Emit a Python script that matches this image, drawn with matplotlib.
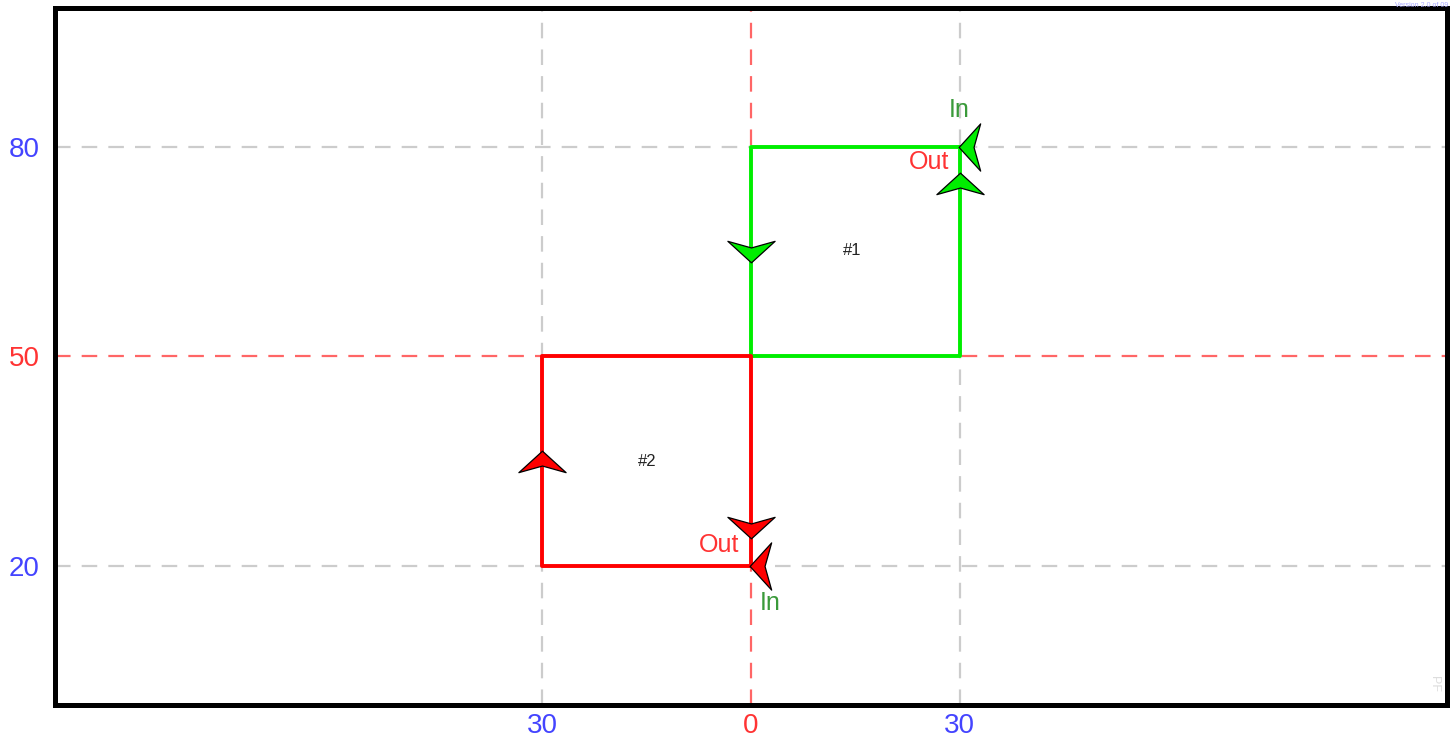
import numpy as np
import matplotlib
matplotlib.use("Agg")
import matplotlib.pyplot as plt
from matplotlib.path import Path

plt.rcParams['font.family'] = ['Liberation Sans', 'DejaVu Sans']

# loop outlines (x, y)
green_x = [30, 0, 0, 30, 30]
green_y = [80, 80, 50, 50, 80]
red_x = [0, -30, -30, 0, 0]
red_y = [20, 20, 50, 50, 20]

# direction arrows: x, y, direction
green_arrows = [(0, 65.2, 'down'), (30, 74.8, 'up'), (31.4, 80, 'left')]
red_arrows = [(-30, 34.9, 'up'), (0, 25.5, 'down'), (1.4, 20, 'left')]

# labels
labels = [("In", 29.9, 85.3, '#3a9a3a'), ("Out", 25.6, 77.9, '#ff3333'),
          ("Out", -4.6, 23.0, '#ff3333'), ("In", 2.8, 14.6, '#3a9a3a')]
loop_names = [("#1", 14.5, 65.2), ("#2", -14.9, 35.0)]

xticks = [-30, 0, 30]
xticklabels = ["30", "0", "30"]
yticks = [20, 50, 80]
yticklabels = ["20", "50", "80"]

base = np.array([[0, 0.48], [1, -0.43], [0, -0.15], [-1, -0.43], [0, 0.48]])
def arrow_marker(d):
    v = base.copy()
    if d == 'down':
        v[:, 1] = -v[:, 1]
    elif d == 'left':
        v = np.column_stack([-base[:, 1], base[:, 0]])
    elif d == 'right':
        v = np.column_stack([base[:, 1], base[:, 0]])
    return Path(v, [Path.MOVETO, Path.LINETO, Path.LINETO, Path.LINETO, Path.CLOSEPOLY])

fig = plt.figure(figsize=(14.56, 7.45), dpi=100)
ax = fig.add_axes([55/1456, 40/745, 1392/1456, 697/745])
ax.set_xlim(-100, 100)
ax.set_ylim(0, 100)

# grid
for x in xticks:
    c = '#ff6666' if x == 0 else '#cccccc'
    ax.axvline(x, color=c, lw=1.6, dashes=(7, 5), zorder=1)
for y in yticks:
    c = '#ff6666' if y == 50 else '#cccccc'
    ax.axhline(y, color=c, lw=1.6, dashes=(7, 5), zorder=1)

ax.plot(green_x, green_y, color='#00ee00', lw=2.8, zorder=2)
ax.plot(red_x, red_y, color='#ff0000', lw=2.8, zorder=3)

for (x, y, d) in green_arrows:
    ax.plot(x, y, marker=arrow_marker(d), ms=34, mfc='#00ee00', mec='black', mew=0.9, zorder=4)
for (x, y, d) in red_arrows:
    ax.plot(x, y, marker=arrow_marker(d), ms=34, mfc='#ff0000', mec='black', mew=0.9, zorder=4)

for (t, x, y, c) in labels:
    ax.text(x, y, t, color=c, fontsize=18, ha='center', va='center', zorder=5)
for (t, x, y) in loop_names:
    ax.text(x, y, t, color='#222222', fontsize=12, ha='center', va='center')

ax.set_xticks(xticks)
ax.set_xticklabels(xticklabels)
ax.set_yticks(yticks)
ax.set_yticklabels(yticklabels)
ax.tick_params(axis='x', length=0, labelsize=20, pad=6)
ax.tick_params(axis='y', length=0, labelsize=20, pad=11)
for lab, v in zip(ax.get_xticklabels(), xticks):
    lab.set_color('#4444ff' if v != 0 else '#ff3333')
for lab, v in zip(ax.get_yticklabels(), yticks):
    lab.set_color('#4444ff' if v != 50 else '#ff3333')

for s in ax.spines.values():
    s.set_linewidth(3.6)
    s.set_color('black')

ax.text(0.991, 0.03, "PF", transform=ax.transAxes, rotation=-90, fontsize=9,
        color='#dddddd', ha='center', va='center')
fig.text(0.995, 0.9975, "Version 2.0 of 09", color='#aaaaff', fontsize=5, ha='right', va='top')

plt.savefig("out.png", dpi=100)
